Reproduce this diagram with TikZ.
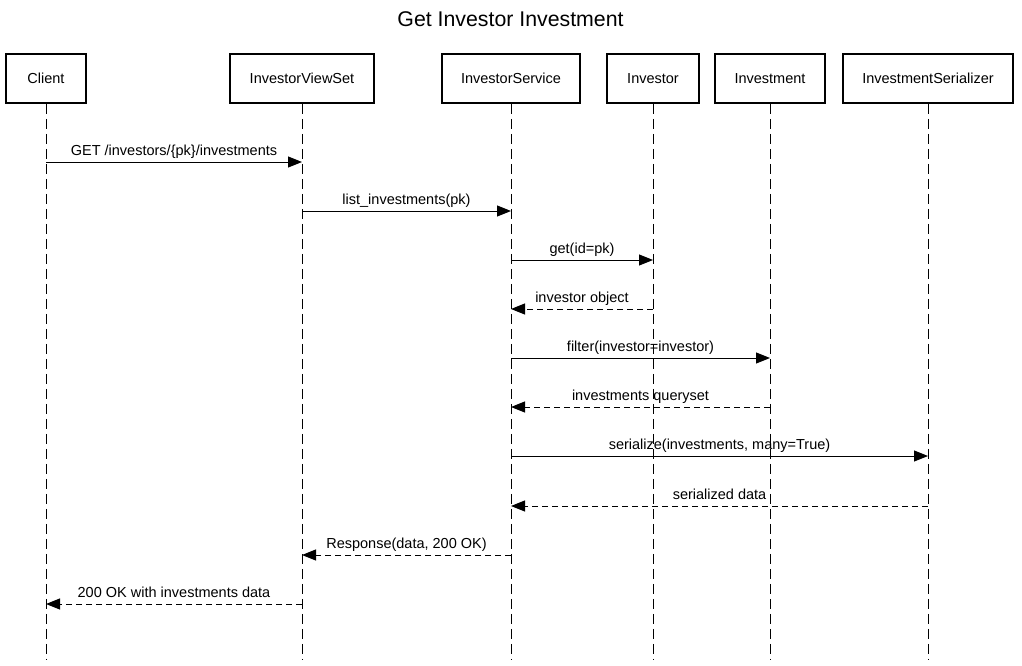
\documentclass[tikz,border=0pt]{standalone}
\usepackage{fontspec}
\setmainfont{Liberation Sans}
\usetikzlibrary{arrows.meta}
\begin{document}
\begin{tikzpicture}[x=1pt,y=-1pt,
  actor/.style={draw,line width=1.8pt,minimum height=49pt,inner sep=0pt,font=\fontsize{14.5}{17}\selectfont,fill=white},
  lifeline/.style={line width=1pt,dash pattern=on 10pt off 5pt},
  msg/.style={line width=1pt,-{Triangle[length=14pt,width=11pt]}},
  ret/.style={msg,dash pattern=on 6pt off 4pt},
  lbl/.style={font=\fontsize{14.5}{17}\selectfont,anchor=base,inner sep=0pt}]
\useasboundingbox (0,0) rectangle (1022,666);
\node[anchor=base,font=\fontsize{21.3}{25}\selectfont] (title) at (510.5,27) {Get Investor Investment};
% actors
\node[actor,minimum width=80pt]  (client) at (46,78.5)  {Client};
\node[actor,minimum width=144pt] (view)   at (302,78.5) {InvestorViewSet};
\node[actor,minimum width=138pt] (svc)    at (511,78.5) {InvestorService};
\node[actor,minimum width=92pt]  (inv)    at (653,78.5) {Investor};
\node[actor,minimum width=110pt] (invm)   at (770,78.5) {Investment};
\node[actor,minimum width=170pt] (ser)    at (928,78.5) {InvestmentSerializer};
% lifeline ends
\foreach \n/\x in {client/46,view/302,svc/511,inv/653,invm/770,ser/928}{
  \coordinate (\n-end) at (\x,660);
  \draw[lifeline] (\n.south) -- (\n-end);
}
% message anchor points
\foreach \n/\x in {client/46,view/302,svc/511,inv/653,invm/770,ser/928}{
  \foreach \i/\y in {1/162,2/211,3/260,4/309,5/358,6/407,7/456,8/506,9/555,10/604}{
    \coordinate (\n-\i) at (\x,\y);
  }
}
\draw[msg] (client-1) -- node[lbl,yshift=7pt] (l1) {GET /investors/\{pk\}/investments} (view-1);
\draw[msg] (view-2) -- node[lbl,yshift=7pt] (l2) {list\_investments(pk)} (svc-2);
\draw[msg] (svc-3) -- node[lbl,yshift=7pt] (l3) {get(id=pk)} (inv-3);
\draw[ret] (inv-4) -- node[lbl,yshift=7pt] (l4) {investor object} (svc-4);
\draw[msg] (svc-5) -- node[lbl,yshift=7pt] (l5) {filter(investor=investor)} (invm-5);
\draw[ret] (invm-6) -- node[lbl,yshift=7pt] (l6) {investments queryset} (svc-6);
\draw[msg] (svc-7) -- node[lbl,yshift=7pt] (l7) {serialize(investments, many=True)} (ser-7);
\draw[ret] (ser-8) -- node[lbl,yshift=7pt] (l8) {serialized data} (svc-8);
\draw[ret] (svc-9) -- node[lbl,yshift=7pt] (l9) {Response(data, 200 OK)} (view-9);
\draw[ret] (view-10) -- node[lbl,yshift=7pt] (l10) {200 OK with investments data} (client-10);
\end{tikzpicture}
\end{document}
